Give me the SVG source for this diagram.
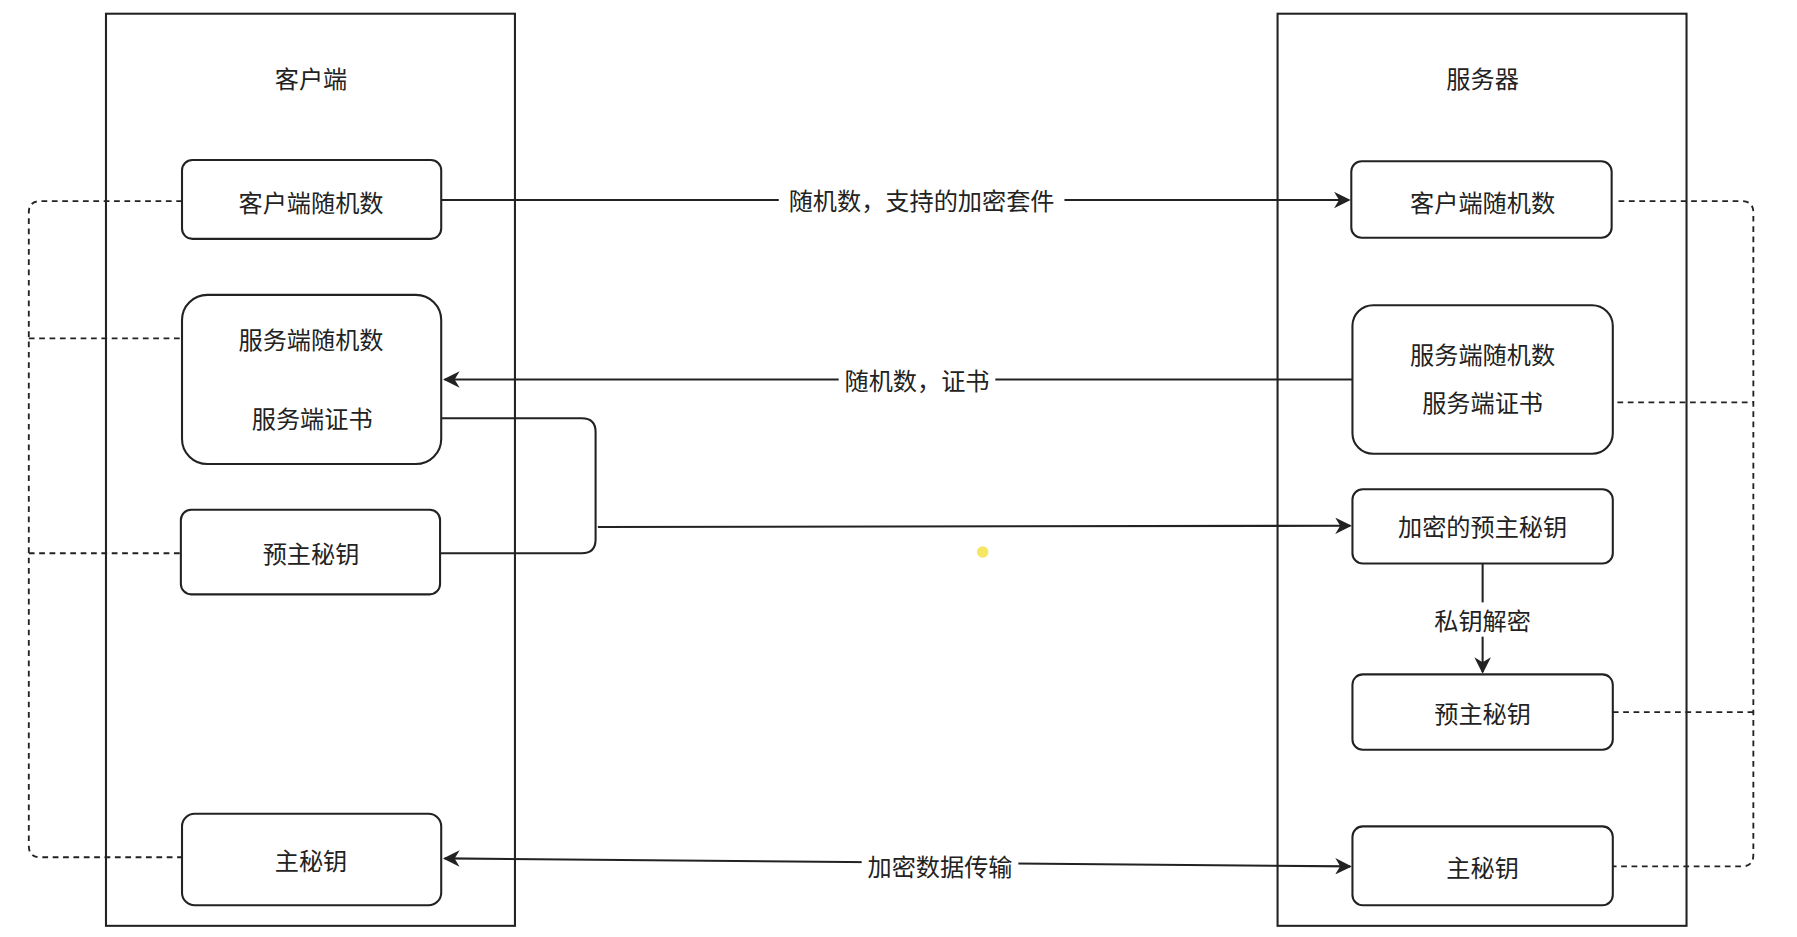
<svg xmlns="http://www.w3.org/2000/svg" width="1797" height="937" viewBox="0 0 1797 937">
<style>
.c{fill:none;stroke:#222;stroke-width:1.8}
.n{fill:#fff;stroke:#222;stroke-width:1.8}
.t{font-family:"Noto Sans CJK SC","Liberation Sans",sans-serif;font-size:21px;fill:#222;text-anchor:middle;dominant-baseline:central}
.l{fill:none;stroke:#222;stroke-width:1.8}
.d{fill:none;stroke:#222;stroke-width:1.6;stroke-dasharray:5 4}
.bg{fill:#fff;stroke:none}
</style>
<defs><marker id="a" viewBox="0 0 10 10" refX="9" refY="5" markerWidth="8" markerHeight="8" orient="auto-start-reverse"><path d="M0,0 L10,5 L0,10 L3,5z" fill="#222"/></marker></defs>
<rect width="1797" height="937" fill="#fff"/>
<g transform="scale(1.152,1.143)">
<g id="client"><rect class="c" x="92" y="12" width="355" height="798"/><text class="t" x="270" y="68">客户端</text></g>
<g id="server"><rect class="c" x="1109" y="12" width="355" height="798"/><text class="t" x="1287" y="68">服务器</text></g>
<g id="connectors">
<path class="d" d="M158,176 H35 Q25,176 25,186 V740 Q25,750 35,750 H158 M25,296 H192 M25,484 H157"/>
<path class="d" d="M1405,176 H1512 Q1522,176 1522,186 V748 Q1522,758 1512,758 H1400 M1350,352 H1522 M1400,623 H1525"/>
<path class="l" d="M383,175 H1171" marker-end="url(#a)"/>
<path class="l" d="M1174,332 H386" marker-end="url(#a)"/>
<path class="l" d="M333,366 H505 Q517,366 517,378 V472 Q517,484 505,484 H382"/>
<path class="l" d="M519,461 L1172,460" marker-end="url(#a)"/>
<path class="l" d="M1287,493 V588" marker-end="url(#a)"/>
<path class="l" d="M386,751 L1172,758" marker-start="url(#a)" marker-end="url(#a)"/>
<rect class="bg" x="676" y="160" width="248" height="30"/><text class="t" x="800" y="175">随机数，支持的加密套件</text>
<rect class="bg" x="728" y="317" width="136" height="30"/><text class="t" x="796" y="332">随机数，证书</text>
<rect class="bg" x="1240" y="527" width="94" height="30"/><text class="t" x="1287" y="542">私钥解密</text>
<rect class="bg" x="748" y="742" width="136" height="30"/><text class="t" x="816" y="757">加密数据传输</text>
</g>
<g id="c1"><rect class="n" x="158" y="140" width="225" height="69" rx="9"/><text class="t" x="270" y="176">客户端随机数</text></g>
<g id="c2"><rect class="n" x="158" y="258" width="225" height="148" rx="22"/><rect class="bg" x="196" y="282" width="150" height="28"/><text class="t" x="270" y="296">服务端随机数</text><text class="t" x="271" y="365">服务端证书</text></g>
<g id="c3"><rect class="n" x="157" y="446" width="225" height="74" rx="9"/><text class="t" x="270" y="483">预主秘钥</text></g>
<g id="c4"><rect class="n" x="158" y="712" width="225" height="80" rx="11"/><text class="t" x="270" y="752">主秘钥</text></g>
<g id="s1"><rect class="n" x="1173" y="141" width="226" height="67" rx="9"/><text class="t" x="1287" y="176">客户端随机数</text></g>
<g id="s2"><rect class="n" x="1174" y="267" width="226" height="130" rx="18"/><text class="t" x="1287" y="309">服务端随机数</text><text class="t" x="1287" y="351">服务端证书</text></g>
<g id="s3"><rect class="n" x="1174" y="428" width="226" height="65" rx="9"/><text class="t" x="1287" y="460">加密的预主秘钥</text></g>
<g id="s4"><rect class="n" x="1174" y="590" width="226" height="66" rx="9"/><text class="t" x="1287" y="623">预主秘钥</text></g>
<g id="s5"><rect class="n" x="1174" y="723" width="226" height="69" rx="9"/><text class="t" x="1287" y="758">主秘钥</text></g>
<circle cx="853" cy="483" r="5" fill="#f5e663"/>
</g>
</svg>
